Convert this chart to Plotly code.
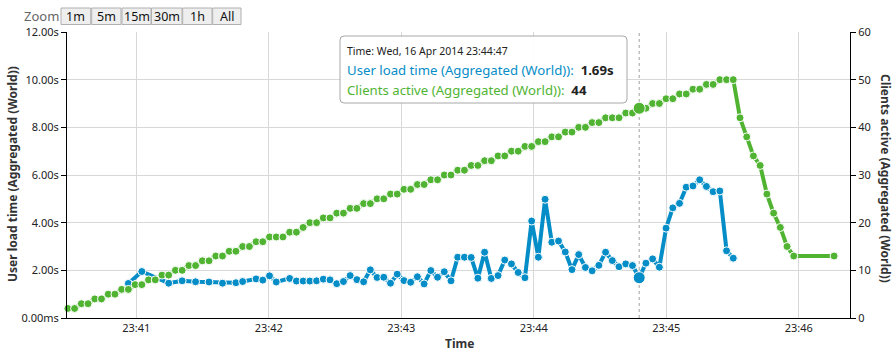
import pandas as pd
import plotly.graph_objects as go

# ---------------- data ----------------
SAMPLE_START = "2014-04-16 23:40:29"
SAMPLE_END = "2014-04-16 23:46:16"
SAMPLE_COUNT = 115
HOVER_SAMPLE = 85

blue_sample_idx = [9, 11, 15, 17, 19, 21, 23, 25, 26, 28, 29, 30, 31] + list(range(33, 100))
blue_load_s = [1.45, 1.95, 1.46, 1.56, 1.52, 1.51, 1.46, 1.48, 1.53, 1.64, 1.59, 1.77, 1.51,
               1.66, 1.55, 1.55, 1.55, 1.56, 1.63, 1.60, 1.44, 1.53, 1.78,
               1.61, 1.52, 2.02, 1.70, 1.71, 1.46, 1.84, 1.57, 1.50, 1.73,
               1.43, 1.99, 1.71, 1.94, 1.56, 2.55, 2.55, 2.54, 1.67, 2.76,
               1.66, 1.78, 2.43, 2.27, 1.91, 1.69, 4.07, 2.55, 4.98, 3.18,
               3.23, 2.77, 2.03, 2.66, 2.12, 1.98, 2.21, 2.76, 2.41, 2.15,
               2.27, 2.20, 1.69, 2.30, 2.48, 2.13, 3.77, 4.62, 4.81, 5.49,
               5.54, 5.80, 5.52, 5.30, 5.33, 2.82, 2.51]

green_sample_idx = list(range(0, 109)) + [114]
green_clients = [2, 2, 3, 3, 4, 4, 5, 5, 6, 6, 7, 7, 8, 8, 9, 9, 10, 10, 11, 11, 12, 12, 13, 13, 14, 14, 15, 15, 16, 16,
                 17, 17, 17, 18, 18, 19, 20, 20, 21, 21, 22, 22, 23, 23,
                 24, 24, 25, 25, 26, 26, 27, 27, 28, 28, 29, 29, 30, 30, 31, 31, 32, 32, 33, 33,
                 34, 34, 35, 35, 36, 36, 37, 37, 38, 38, 39, 39, 40, 40, 41, 41,
                 42, 42, 42, 43, 43, 44, 44, 45, 45, 46, 46, 47, 47, 48, 48, 49, 49, 50, 50, 50,
                 42, 38, 34, 32, 26, 22, 19, 15, 13,
                 13]

left_ticks = [0, 2, 4, 6, 8, 10, 12]
left_tick_labels = ["0.00ms", "2.00s", "4.00s", "6.00s", "8.00s", "10.00s", "12.00s"]
right_ticks = [0, 10, 20, 30, 40, 50, 60]
zoom_buttons = ["1m", "5m", "15m", "30m", "1h", "All"]

BLUE_NAME = "User load time (Aggregated (World))"
GREEN_NAME = "Clients active (Aggregated (World))"
X_RANGE = ["2014-04-16 23:40:28.6", "2014-04-16 23:46:23.2"]

assert len(blue_sample_idx) == len(blue_load_s)
assert len(green_sample_idx) == len(green_clients)

sample_times = pd.date_range(SAMPLE_START, SAMPLE_END, periods=SAMPLE_COUNT)
blue_times = [sample_times[i] for i in blue_sample_idx]
green_times = [sample_times[i] for i in green_sample_idx]

# ---------------- layout geometry ----------------
W, H = 895, 352
L, R, T, B = 67, 850, 32, 318
FONT = "Noto Sans"
BLUE = "#058DC7"
GREEN = "#50B432"


def px_x(x):
    return (x - L) / (R - L)


def px_y(y):
    return (B - y) / (B - T)


fig = go.Figure()

fig.add_trace(go.Scatter(
    x=blue_times, y=blue_load_s, mode="lines+markers", name=BLUE_NAME,
    line=dict(color=BLUE, width=4),
    marker=dict(size=8, color=BLUE, line=dict(color="white", width=1)),
    cliponaxis=False, yaxis="y",
))
fig.add_trace(go.Scatter(
    x=green_times, y=green_clients, mode="lines+markers", name=GREEN_NAME,
    line=dict(color=GREEN, width=4),
    marker=dict(size=8, color=GREEN, line=dict(color="white", width=1)),
    cliponaxis=False, yaxis="y2",
))

# hovered points
hover_time = sample_times[HOVER_SAMPLE]
hb = blue_load_s[blue_sample_idx.index(HOVER_SAMPLE)]
hg = green_clients[green_sample_idx.index(HOVER_SAMPLE)]
fig.add_trace(go.Scatter(x=[hover_time], y=[hb], mode="markers", yaxis="y",
                         marker=dict(size=12, color=BLUE, line=dict(color="white", width=1)),
                         cliponaxis=False))
fig.add_trace(go.Scatter(x=[hover_time], y=[hg], mode="markers", yaxis="y2",
                         marker=dict(size=12, color=GREEN, line=dict(color="white", width=1)),
                         cliponaxis=False))

shapes = []
annotations = []

# crosshair
shapes.append(dict(type="line", xref="x", yref="paper", x0=hover_time, x1=hover_time,
                   y0=0, y1=1, line=dict(color="#a0a0a0", width=1, dash="dot"), layer="below"))

# zoom selector
annotations.append(dict(text="Zoom", x=px_x(22), y=px_y(16), xref="paper", yref="paper",
                        xanchor="left", yanchor="middle", showarrow=False,
                        font=dict(family=FONT, size=13, color="#666666")))
btn_edges = [(61, 90.7), (91.7, 121), (122, 151), (151.5, 182), (182.7, 212), (212.7, 241)]
for label, (x0, x1) in zip(zoom_buttons, btn_edges):
    shapes.append(dict(type="rect", xref="paper", yref="paper", x0=px_x(x0), x1=px_x(x1),
                       y0=px_y(24.5), y1=px_y(8), fillcolor="#eeeeee",
                       line=dict(color="#b0b0b0", width=1), layer="above"))
    annotations.append(dict(text=label, x=px_x((x0 + x1) / 2), y=px_y(16.5), xref="paper", yref="paper",
                            xanchor="center", yanchor="middle", showarrow=False,
                            font=dict(family=FONT, size=12.5, color="#111111")))

# tooltip box (rounded)
tx0, tx1, ty0, ty1, rr = 340, 627, 36, 103, 4
path = (f"M {px_x(tx0 + rr)},{px_y(ty0)} L {px_x(tx1 - rr)},{px_y(ty0)} "
        f"Q {px_x(tx1)},{px_y(ty0)} {px_x(tx1)},{px_y(ty0 + rr)} "
        f"L {px_x(tx1)},{px_y(ty1 - rr)} Q {px_x(tx1)},{px_y(ty1)} {px_x(tx1 - rr)},{px_y(ty1)} "
        f"L {px_x(tx0 + rr)},{px_y(ty1)} Q {px_x(tx0)},{px_y(ty1)} {px_x(tx0)},{px_y(ty1 - rr)} "
        f"L {px_x(tx0)},{px_y(ty0 + rr)} Q {px_x(tx0)},{px_y(ty0)} {px_x(tx0 + rr)},{px_y(ty0)} Z")
shapes.append(dict(type="path", xref="paper", yref="paper", path=path,
                   fillcolor="rgba(255,255,255,0.92)", line=dict(color="#a8a8a8", width=1), layer="above"))

annotations.append(dict(text="Time: " + hover_time.strftime("%a, %d %b %Y %H:%M:%S"),
                        x=px_x(345), y=px_y(51), xref="paper", yref="paper",
                        xanchor="left", yanchor="middle", showarrow=False,
                        font=dict(family=FONT, size=10.5, color="#222222")))
annotations.append(dict(text=f"<span style='color:{BLUE}'>{BLUE_NAME}:</span>&nbsp; <b>{hb:.2f}s</b>",
                        x=px_x(345), y=px_y(70), xref="paper", yref="paper",
                        xanchor="left", yanchor="middle", showarrow=False,
                        font=dict(family=FONT, size=13.2, color="#222222")))
annotations.append(dict(text=f"<span style='color:{GREEN}'>{GREEN_NAME}:</span>&nbsp; <b>{hg}</b>",
                        x=px_x(345), y=px_y(90), xref="paper", yref="paper",
                        xanchor="left", yanchor="middle", showarrow=False,
                        font=dict(family=FONT, size=13.2, color="#222222")))

# axis titles
annotations.append(dict(text="<b>" + BLUE_NAME + "</b>", x=px_x(12), y=px_y(174), xref="paper", yref="paper",
                        textangle=-90, showarrow=False, xanchor="center", yanchor="middle",
                        font=dict(family=FONT, size=12, color="#333333")))
annotations.append(dict(text="<b>" + GREEN_NAME + "</b>", x=px_x(885), y=px_y(178), xref="paper", yref="paper",
                        textangle=90, showarrow=False, xanchor="center", yanchor="middle",
                        font=dict(family=FONT, size=12, color="#333333")))
annotations.append(dict(text="<b>Time</b>", x=px_x(459), y=px_y(343), xref="paper", yref="paper",
                        showarrow=False, xanchor="center", yanchor="middle",
                        font=dict(family=FONT, size=12, color="#333333")))

fig.update_layout(
    width=W, height=H,
    margin=dict(l=L, r=W - R, t=T, b=H - B, pad=0),
    paper_bgcolor="white", plot_bgcolor="white",
    showlegend=False, hovermode=False,
    font=dict(family=FONT, size=11, color="#222222"),
    xaxis=dict(type="date", range=X_RANGE, tick0="2014-04-16 23:41:00", dtick=60000,
               tickformat="%H:%M", showgrid=True, gridcolor="#d8d8d8", gridwidth=1,
               showline=True, linecolor="#000000", linewidth=1, ticks="", zeroline=False,
               tickfont=dict(family=FONT, size=11, color="#222222")),
    yaxis=dict(range=[0, 12], tickvals=left_ticks, ticktext=left_tick_labels,
               showgrid=True, gridcolor="#d8d8d8", gridwidth=1, zeroline=False,
               showline=True, linecolor="#000000", linewidth=1,
               ticks="outside", ticklen=5, tickcolor="#000000",
               tickfont=dict(family=FONT, size=11, color="#222222")),
    yaxis2=dict(range=[0, 60], tickvals=right_ticks, overlaying="y", side="right",
                showgrid=False, zeroline=False, showline=True, linecolor="#000000", linewidth=1,
                ticks="outside", ticklen=5, tickcolor="#000000",
                tickfont=dict(family=FONT, size=11, color="#222222")),
    shapes=shapes, annotations=annotations,
)

fig.write_html("out.html", config={"displayModeBar": False})
